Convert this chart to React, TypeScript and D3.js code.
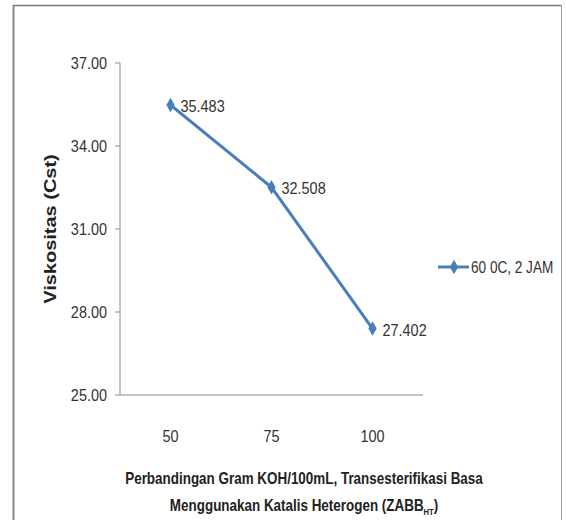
import * as d3 from "d3";
import type { ReactNode } from "react";

const CATEGORIES = ["50", "75", "100"];
const VISKOSITAS = [35.483, 32.508, 27.402];
const Y_TICKS = [25, 28, 31, 34, 37];
const SERIES_NAME = "60 0C, 2 JAM";

const W = 566;
const H = 520;
const plot = { left: 120, right: 423, top: 63, bottom: 395 };
const blue = "#4a7ebb";
const axisColor = "#8c8c8c";
const font = "'Liberation Sans', Arial, sans-serif";

// condensed text: no narrow font installed, so squeeze horizontally
function NText(props: {
  x: number;
  y: number;
  size: number;
  anchor?: string;
  bold?: boolean;
  sx?: number;
  fill?: string;
  children: ReactNode;
}) {
  const { x, y, size, anchor = "start", bold, sx = 0.85, fill = "#333", children } = props;
  return (
    <g transform={`translate(${x},${y}) scale(${sx},1)`}>
      <text dy="0.35em" textAnchor={anchor} fontFamily={font} fontSize={size} fontWeight={bold ? "bold" : "normal"} fill={fill}>
        {children}
      </text>
    </g>
  );
}

export default function App() {
  const x = d3.scaleBand<string>().domain(CATEGORIES).range([plot.left, plot.right]);
  const y = d3.scaleLinear().domain([25, 37]).range([plot.bottom, plot.top]);

  const points = CATEGORIES.map((c, i) => ({ cat: c, v: VISKOSITAS[i] }));
  const cx = (c: string) => x(c)! + x.bandwidth() / 2;

  const line = d3.line<(typeof points)[0]>()
    .x((d) => cx(d.cat))
    .y((d) => y(d.v));

  const diamond = d3.symbol().type(d3.symbolDiamond).size(60)()!;

  return (
    <svg width={W} height={H} style={{ position: "absolute", left: 0, top: 0, background: "#fff" }}>
      <defs>
        <clipPath id="lblclip">
          <rect x={0} y={0} width={431} height={H} />
        </clipPath>
      </defs>
      {/* frame */}
      <rect x={13.5} y={5.5} width={548} height={530} fill="#fff" stroke="#a0a0a0" strokeWidth={1} />
      <line x1={13.5} x2={13.5} y1={5} y2={H} stroke="#8a8a8a" strokeWidth={2} />
      <line x1={13} x2={561} y1={5.5} y2={5.5} stroke="#7a7a7a" strokeWidth={1.5} />

      {/* y axis */}
      <line x1={plot.left} x2={plot.left} y1={plot.top} y2={plot.bottom} stroke={axisColor} />
      {Y_TICKS.map((t) => (
        <g key={t}>
          <line x1={plot.left - 5} x2={plot.left} y1={y(t)} y2={y(t)} stroke={axisColor} />
          <NText x={plot.left - 13} y={y(t)} size={17} anchor="end">
            {t.toFixed(2)}
          </NText>
        </g>
      ))}

      {/* x axis */}
      <line x1={plot.left} x2={plot.right} y1={plot.bottom} y2={plot.bottom} stroke={axisColor} />
      {CATEGORIES.map((c) => (
        <NText key={c} x={cx(c)} y={436} size={17} anchor="middle">
          {c}
        </NText>
      ))}

      {/* series */}
      <path d={line(points)!} fill="none" stroke={blue} strokeWidth={3} />
      {points.map((p) => (
        <path key={p.cat} d={diamond} transform={`translate(${cx(p.cat)},${y(p.v)})`} fill={blue} />
      ))}
      <g clipPath="url(#lblclip)">
        {points.map((p) => (
          <NText key={p.cat} x={cx(p.cat) + 10} y={y(p.v) + 1} size={17}>
            {p.v.toFixed(3)}
          </NText>
        ))}
      </g>

      {/* axis titles */}
      <g transform={`translate(50,${(plot.top + plot.bottom) / 2}) rotate(-90) scale(1,0.82)`}>
        <text dy="0.35em" textAnchor="middle" fontFamily={font} fontWeight="bold" fontSize={20} fill="#222">
          Viskositas (Cst)
        </text>
      </g>
      <NText x={304} y={478} size={16} anchor="middle" bold sx={0.84} fill="#222">
        Perbandingan  Gram KOH/100mL, Transesterifikasi Basa
      </NText>
      <NText x={304} y={505} size={16} anchor="middle" bold sx={0.84} fill="#222">
        Menggunakan Katalis Heterogen (ZABB<tspan fontSize={9} dy={4}>HT</tspan><tspan dy={-4}>)</tspan>
      </NText>

      {/* legend */}
      <line x1={438} x2={469} y1={267} y2={267} stroke={blue} strokeWidth={3} />
      <path d={diamond} transform="translate(454,267)" fill={blue} />
      <NText x={471} y={267} size={16}>
        {SERIES_NAME}
      </NText>
    </svg>
  );
}
